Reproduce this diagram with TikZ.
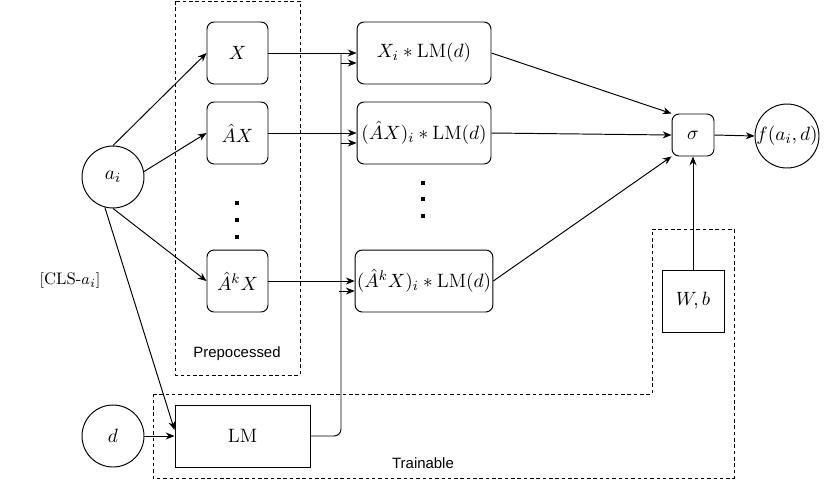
\documentclass[tikz,border=0pt]{standalone}
\usepackage{amsmath,amssymb}
\usepackage{fontspec}
\usepackage{tikz}
\usetikzlibrary{arrows.meta,calc}
\newfontfamily\labelfont{Liberation Sans}
\newcommand{\hatAk}{\hat{A}\vphantom{\hat{A}}^{k}}

\begin{document}
\begin{tikzpicture}[
    x=0.02cm, y=-0.02cm, line width=0.55pt,
    every node/.style={font=\fontsize{11}{13}\selectfont},
    rbox/.style={draw, rectangle, rounded corners=4pt, minimum width=1.22cm, minimum height=1.24cm, inner sep=1pt, align=center},
    wide/.style={minimum width=2.68cm},
    sbox/.style={draw, rectangle, minimum width=1.24cm, minimum height=1.24cm, align=center},
    circ/.style={draw, circle, minimum size=1.24cm, inner sep=0pt},
    lbl/.style={font=\labelfont\fontsize{8.5}{10}\selectfont},
    grp/.style={dashed, dash pattern=on 2pt off 1.6pt, line width=0.5pt},
    arr/.style={-{Stealth[length=5pt,width=4pt]}}
]
\useasboundingbox (0,0) rectangle (830,481);

% Inputs
\node[circ] (ai) at (113,177) {$a_i$};
\node[circ] (d)  at (113,436) {$d$};
\node[font=\fontsize{9.5}{11}\selectfont] (cls) at (70,281) {$[\mathrm{CLS}\text{-}a_i]$};

% Prepocessed group
\draw[grp] (175,1) rectangle (300,375);
\node[lbl] (prep) at (237,354) {Prepocessed};

\node[rbox] (x)   at (237.5,53)  {$X$};
\node[rbox] (ax)  at (237.5,133) {$\hat{A}X$};
\node[rbox] (akx) at (237.5,281) {$\hatAk X$};
\foreach \y in {203,220,237}
  \fill (237,\y) ++(-2,-2) rectangle ++(4,4);

% Trainable group
\draw[grp] (153,394) -- (652,394) -- (652,229) -- (734,229) -- (734,478) -- (153,478) -- cycle;
\node[lbl] (train) at (423,463) {Trainable};

\node[sbox, minimum width=2.7cm] (lm) at (242.5,436) {$\mathrm{LM}$};
\node[sbox] (wb) at (693,301) {$W,b$};

% Products
\node[rbox, wide] (xl)   at (424,53)  {$X_i * \mathrm{LM}(d)$};
\node[rbox, wide] (axl)  at (424,133) {$(\hat{A}X)_i * \mathrm{LM}(d)$};
\node[rbox, wide] (akxl) at (424,281) {$(\hatAk X)_i * \mathrm{LM}(d)$};
\foreach \y in {183,199,216}
  \fill (423,\y) ++(-2,-2) rectangle ++(4,4);

% Output
\node[rbox, minimum width=0.84cm, minimum height=0.84cm] (sig) at (693,135) {$\sigma$};
\node[circ, minimum size=1.28cm] (f) at (787,136) {$f(a_i,d)$};

% Arrows from a_i and d
\draw[arr] (ai.north) -- (x.west);
\draw[arr] (ai.10) -- (ax.west);
\draw[arr] (ai.south) -- (akx.west);
\draw[arr] (ai.255) -- (lm.175);
\draw[arr] (d.east) -- (lm.west);

% Features to products
\draw[arr] (x.east) -- (xl.west);
\draw[arr] (ax.east) -- (axl.west);
\draw[arr] (akx.east) -- (akxl.west);

% LM output
\coordinate (bus) at (341,53);
\draw[rounded corners=4pt] (lm.east) -| (bus);
\foreach \t in {xl,axl,akxl}
  \draw[arr] ($(\t.west)+(-16,10)$) -- ($(\t.west)+(0,10)$);

% Products to sigma
\draw[arr] (xl.east) -- (sig.north west);
\draw[arr] (axl.east) -- (sig.west);
\draw[arr] (akxl.east) -- (sig.south west);
\draw[arr] (wb.north) -- (sig.south);
\draw[arr] (sig.east) -- (f.west);

\end{tikzpicture}
\end{document}
